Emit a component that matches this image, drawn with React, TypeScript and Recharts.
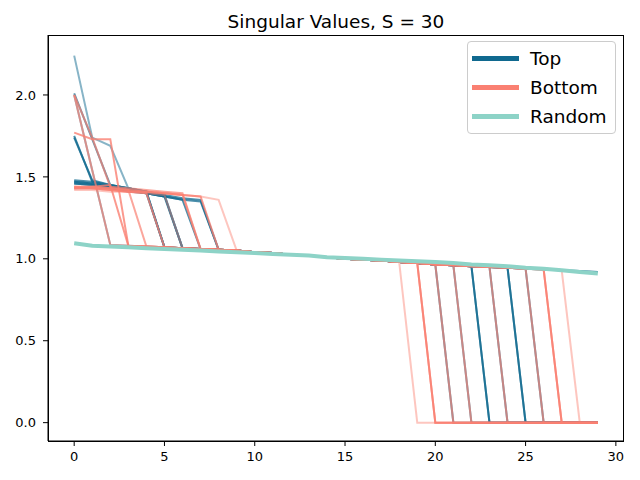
import { LineChart, Line, XAxis, YAxis } from "recharts";

const idx = [0,1,2,3,4,5,6,7,8,9,10,11,12,13,14,15,16,17,18,19,20,21,22,23,24,25,26,27,28,29];

const xTicks = [0, 5, 10, 15, 20, 25, 30];
const yTicks = [0, 0.5, 1, 1.5, 2];

// Top
const topA = [1.74,1.48,1.45,1.43,1.41,1.07,1.065,1.06,1.055,1.05,1.04,1.035,1.025,1.02,1.01,1.0,0.995,0.99,0.98,0.975,0.965,0.96,0.955,0,0,0,0,0,0,0];
const topB = [1.47,1.46,1.44,1.42,1.4,1.07,1.065,1.06,1.055,1.05,1.04,1.035,1.025,1.02,1.01,1.0,0.995,0.99,0.98,0.975,0.965,0.96,0.955,0.95,0.945,0,0,0,0,0];
const topC = [1.46,1.45,1.43,1.42,1.4,1.38,1.065,1.06,1.055,1.05,1.04,1.035,1.025,1.02,1.01,1.0,0.995,0.99,0.98,0.975,0.965,0.96,0.955,0,0,0,0,0,0,0];
const topD = [1.75,1.47,1.44,1.42,1.4,1.38,1.36,1.06,1.055,1.05,1.04,1.035,1.025,1.02,1.01,1.0,0.995,0.99,0.98,0.975,0.965,0.96,0.955,0.95,0.945,0,0,0,0,0];
const topE = [1.47,1.46,1.44,1.42,1.41,1.39,1.37,1.36,1.055,1.05,1.04,1.035,1.025,1.02,1.01,1.0,0.995,0.99,0.98,0.975,0.965,0.96,0.955,0.95,0,0,0,0,0,0];
const topF = [2.24,1.74,1.69,1.43,1.41,1.39,1.065,1.06,1.055,1.05,1.04,1.035,1.025,1.02,1.01,1.0,0.995,0.99,0.98,0.975,0.965,0.96,0.955,0.95,0.945,0.94,0.935,0.93,0.925,0.92];
const topG = [2.01,1.73,1.45,1.43,1.41,1.39,1.065,1.06,1.055,1.05,1.04,1.035,1.025,1.02,1.01,1.0,0.995,0.99,0.98,0.975,0.965,0.96,0,0,0,0,0,0,0,0];
const topH = [1.48,1.47,1.45,1.43,1.41,1.07,1.065,1.06,1.055,1.05,1.04,1.035,1.025,1.02,1.01,1.0,0.995,0.99,0.98,0.975,0.965,0,0,0,0,0,0,0,0,0];
const topI = [1.46,1.45,1.43,1.41,1.4,1.38,1.36,1.35,1.055,1.05,1.04,1.035,1.025,1.02,1.01,1.0,0.995,0.99,0.98,0.975,0.965,0.96,0.955,0.95,0.945,0.94,0,0,0,0];
const topJ = [2.0,1.54,1.085,1.08,1.075,1.07,1.065,1.06,1.055,1.05,1.04,1.035,1.025,1.02,1.01,1.0,0.995,0.99,0.98,0.975,0.965,0.96,0.955,0.95,0.945,0.94,0.935,0.93,0.925,0.92];

// Bottom
const botA = [2.0,1.54,1.085,1.08,1.075,1.07,1.065,1.06,1.055,1.05,1.04,1.035,1.025,1.02,1.01,1.0,0.995,0.99,0.98,0.975,0.965,0,0,0,0,0,0,0,0,0];
const botB = [2.0,1.74,1.44,1.43,1.42,1.41,1.4,1.06,1.055,1.05,1.04,1.035,1.025,1.02,1.01,1.0,0.995,0.99,0.98,0.975,0.965,0.96,0,0,0,0,0,0,0,0];
const botC = [1.77,1.73,1.73,1.08,1.075,1.07,1.065,1.06,1.055,1.05,1.04,1.035,1.025,1.02,1.01,1.0,0.995,0.99,0.98,0.975,0.965,0.96,0.955,0.95,0.945,0.94,0.935,0,0,0];
const botD = [1.43,1.44,1.45,1.08,1.075,1.07,1.065,1.06,1.055,1.05,1.04,1.035,1.025,1.02,1.01,1.0,0.995,0.99,0.98,0.975,0,0,0,0,0,0,0,0,0,0];
const botE = [1.44,1.44,1.43,1.42,1.075,1.07,1.065,1.06,1.055,1.05,1.04,1.035,1.025,1.02,1.01,1.0,0.995,0.99,0.98,0.975,0.965,0.96,0.955,0.95,0,0,0,0,0,0];
const botF = [1.43,1.43,1.42,1.41,1.41,1.4,1.39,1.06,1.055,1.05,1.04,1.035,1.025,1.02,1.01,1.0,0.995,0.99,0.98,0.975,0.965,0.96,0.955,0.95,0.945,0.94,0,0,0,0];
const botG = [1.44,1.43,1.43,1.42,1.41,1.4,1.39,1.38,1.055,1.05,1.04,1.035,1.025,1.02,1.01,1.0,0.995,0.99,0.98,0.975,0.965,0.96,0.955,0.95,0.945,0.94,0.935,0,0,0];
const botH = [1.44,1.44,1.43,1.42,1.41,1.4,1.39,1.38,1.36,1.05,1.04,1.035,1.025,1.02,1.01,1.0,0.995,0.99,0.98,0,0,0,0,0,0,0,0,0,0,0];
const botI = [1.42,1.42,1.41,1.41,1.4,1.39,1.065,1.06,1.055,1.05,1.04,1.035,1.025,1.02,1.01,1.0,0.995,0.99,0.98,0.975,0.965,0.96,0.955,0.95,0.945,0.94,0.935,0.93,0,0];
const botJ = [1.43,1.43,1.42,1.41,1.4,1.07,1.065,1.06,1.055,1.05,1.04,1.035,1.025,1.02,1.01,1.0,0.995,0.99,0.98,0.975,0,0,0,0,0,0,0,0,0,0];

// Random
const randA = [1.095,1.08,1.075,1.07,1.065,1.06,1.055,1.05,1.045,1.04,1.035,1.03,1.025,1.02,1.01,1.005,1.0,0.995,0.99,0.985,0.98,0.975,0.965,0.96,0.955,0.945,0.94,0.93,0.92,0.91];

const TOP = "#10698f";
const BOTTOM = "#fa8072";
const RANDOM = "#8dd3c7";

const series = [
  { key: "topA", values: topA, color: TOP, opacity: 0.75, width: 2 },
  { key: "topB", values: topB, color: TOP, opacity: 0.75, width: 2 },
  { key: "topC", values: topC, color: TOP, opacity: 0.75, width: 2 },
  { key: "topD", values: topD, color: TOP, opacity: 0.75, width: 2 },
  { key: "topE", values: topE, color: TOP, opacity: 0.75, width: 2 },
  { key: "topF", values: topF, color: TOP, opacity: 0.5, width: 2 },
  { key: "topG", values: topG, color: TOP, opacity: 0.7, width: 2 },
  { key: "topH", values: topH, color: TOP, opacity: 0.75, width: 2 },
  { key: "topI", values: topI, color: TOP, opacity: 0.75, width: 2 },
  { key: "topJ", values: topJ, color: TOP, opacity: 0.5, width: 2 },
  { key: "botA", values: botA, color: BOTTOM, opacity: 0.7, width: 2 },
  { key: "botB", values: botB, color: BOTTOM, opacity: 0.7, width: 2 },
  { key: "botC", values: botC, color: BOTTOM, opacity: 0.8, width: 2 },
  { key: "botD", values: botD, color: BOTTOM, opacity: 0.8, width: 2 },
  { key: "botE", values: botE, color: BOTTOM, opacity: 0.7, width: 2 },
  { key: "botF", values: botF, color: BOTTOM, opacity: 0.7, width: 2 },
  { key: "botG", values: botG, color: BOTTOM, opacity: 0.8, width: 2 },
  { key: "botH", values: botH, color: BOTTOM, opacity: 0.45, width: 2 },
  { key: "botI", values: botI, color: BOTTOM, opacity: 0.45, width: 2 },
  { key: "botJ", values: botJ, color: BOTTOM, opacity: 0.8, width: 2 },
  { key: "randA", values: randA, color: RANDOM, opacity: 1, width: 4 },
];

const legendItems = [
  { name: "Top", color: TOP },
  { name: "Bottom", color: BOTTOM },
  { name: "Random", color: RANDOM },
];

const rows = idx.map((i) => {
  const row: any = { x: i };
  series.forEach((s) => {
    row[s.key] = s.values[i];
  });
  return row;
});

const font = "'DejaVu Sans', sans-serif";

function LegendBox() {
  return (
    <div
      style={{
        position: "absolute",
        left: 467,
        top: 41,
        width: 149,
        boxSizing: "border-box",
        border: "1px solid #cccccc",
        borderRadius: 4,
        background: "rgba(255,255,255,0.8)",
        padding: "2px 0",
        fontFamily: font,
      }}
    >
      {legendItems.map((it) => (
        <div key={it.name} style={{ display: "flex", alignItems: "center", height: 29 }}>
          <div style={{ marginLeft: 4, width: 47, height: 5, background: it.color }} />
          <span style={{ marginLeft: 11, fontSize: 18.5, color: "#000" }}>{it.name}</span>
        </div>
      ))}
    </div>
  );
}

export default function App() {
  return (
    <div style={{ position: "absolute", left: 0, top: 0, width: 640, height: 480, background: "#fff" }}>
      <div
        style={{
          position: "absolute",
          left: 0,
          top: 11,
          width: 672,
          textAlign: "center",
          fontFamily: font,
          fontSize: 18.5,
          lineHeight: "22px",
          color: "#000",
        }}
      >
        Singular Values, S = 30
      </div>
      <LineChart width={640} height={480} data={rows} margin={{ top: 35, right: 16, bottom: 0, left: 0 }}>
        <XAxis
          dataKey="x"
          type="number"
          domain={[-1.45, 30.45]}
          ticks={xTicks}
          height={39}
          tickSize={5}
          tickMargin={6}
          stroke="#000"
          tick={{ fill: "#000", fontSize: 13, fontFamily: font }}
        />
        <YAxis
          type="number"
          domain={[-0.112, 2.366]}
          ticks={yTicks}
          width={48}
          tickSize={5}
          tickMargin={7}
          stroke="#000"
          tickFormatter={(v: number) => v.toFixed(1)}
          tick={{ fill: "#000", fontSize: 13, fontFamily: font }}
        />
        {series.map((s) => (
          <Line
            key={s.key}
            dataKey={s.key}
            type="linear"
            stroke={s.color}
            strokeOpacity={s.opacity}
            strokeWidth={s.width}
            dot={false}
            activeDot={false}
            isAnimationActive={false}
          />
        ))}
      </LineChart>
      <div
        style={{
          position: "absolute",
          left: 48,
          top: 35,
          width: 576,
          height: 407,
          boxSizing: "border-box",
          border: "1px solid #000",
          pointerEvents: "none",
        }}
      />
      <LegendBox />
    </div>
  );
}
